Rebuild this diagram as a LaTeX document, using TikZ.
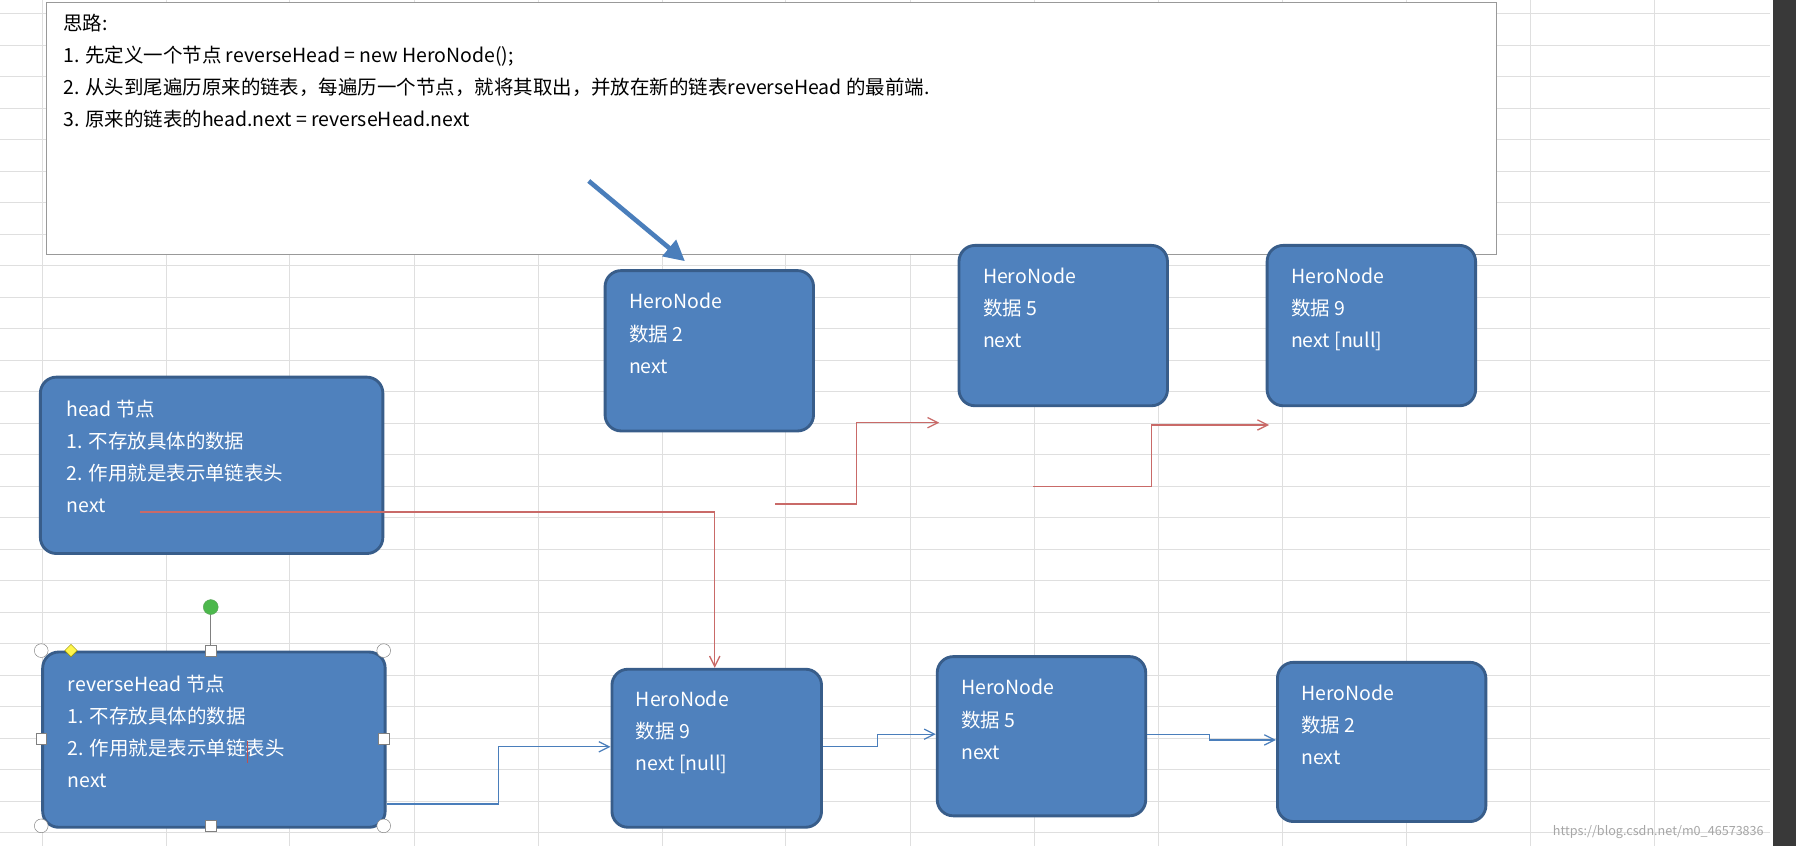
\documentclass[tikz,border=0pt]{standalone}
\usepackage{fontspec}
\setmainfont{Noto Sans CJK SC}
\usetikzlibrary{arrows.meta,shapes.geometric}
\definecolor{bfill}{HTML}{4F81BD}
\definecolor{bdraw}{HTML}{385D8A}
\definecolor{rline}{HTML}{C0504D}
\definecolor{bline}{HTML}{4A7EBB}
\tikzset{
  box/.style={draw=bdraw,line width=2.5pt,fill=bfill,rounded corners=14pt,anchor=north west,inner sep=0pt},
  txt/.style={anchor=north west,text=white,font=\fontsize{17}{28}\selectfont,align=left,inner sep=0pt},
  rarr/.style={draw=rline!85,line width=1.1pt,-{Straight Barb[length=9pt,width=9pt]}},
  barr/.style={draw=bline,line width=1.1pt,-{Straight Barb[length=9pt,width=9pt]}},
}
\begin{document}
\begin{tikzpicture}[x=1pt,y=-1pt]
\useasboundingbox (0,0) rectangle (1568,739);
\fill[white] (0,0) rectangle (1568,739);
\foreach \x in {37,145,253,362,470,578,686,795,903,1011,1120,1228,1336,1444}
  \draw[gray!25,line width=0.8pt] (\x,0) -- (\x,739);
\foreach \y in {12,40,67,95,122,150,177,205,232,260,287,315,342,370,397,425,452,480,507,535,562,590,617,645,672,700,727}
  \draw[gray!25,line width=0.8pt] (0,\y) -- (1545,\y);
\fill[gray!45!black] (1548,0) rectangle (1568,739);
% top text box
\node[draw=gray!80,fill=white,line width=0.8pt,anchor=north west,minimum width=1266pt,minimum height=220pt,inner sep=0pt] (tb) at (40,2) {};
\node[anchor=north west,font=\fontsize{17}{28}\selectfont,align=left,inner sep=0pt] (tt) at (55,12) {思路:\\1. 先定义一个节点 reverseHead = new HeroNode();\\2. 从头到尾遍历原来的链表，每遍历一个节点，就将其取出，并放在新的链表reverseHead 的最前端.\\3. 原来的链表的head.next = reverseHead.next};
% boxes
\node[box,minimum width=182pt,minimum height=140pt] (n2) at (527,235) {};
\node[txt] at (549,256) {HeroNode\\数据 2\\next};
\node[box,minimum width=182pt,minimum height=140pt] (n5) at (836,213) {};
\node[txt] at (858,234) {HeroNode\\数据 5\\next};
\node[box,minimum width=182pt,minimum height=140pt] (n9) at (1105,213) {};
\node[txt] at (1127,234) {HeroNode\\数据 9\\next [null]};
\node[box,minimum width=299pt,minimum height=154pt] (head) at (34,328) {};
\node[txt] at (58,349) {head 节点\\1. 不存放具体的数据\\2. 作用就是表示单链表头\\next};
\node[box,minimum width=299pt,minimum height=153pt] (rh) at (36,568) {};
\node[txt] at (59,589) {reverseHead 节点\\1. 不存放具体的数据\\2. 作用就是表示单链表头\\next};
\node[box,minimum width=183pt,minimum height=138pt] (b9) at (533,583) {};
\node[txt] at (555,603) {HeroNode\\数据 9\\next [null]};
\node[box,minimum width=182pt,minimum height=139pt] (b5) at (817,572) {};
\node[txt] at (839,593) {HeroNode\\数据 5\\next};
\node[box,minimum width=182pt,minimum height=139pt] (b2) at (1114,577) {};
\node[txt] at (1136,598) {HeroNode\\数据 2\\next};
% selection handles
\draw[gray,line width=0.8pt] (184,568) -- (184,530);
\node[draw=gray!70!green,fill=green!60!black!70,circle,inner sep=0pt,minimum size=13pt] (rot) at (184,530) {};
\foreach \p/\q in {36/568,335/568,36/721,335/721}
  \node[draw=gray,fill=white,inner sep=0pt,minimum size=12pt,circle] at (\p,\q) {};
\foreach \p/\q in {184/568,36/645,335/645,184/721}
  \node[draw=gray,fill=white,inner sep=0pt,minimum size=9pt] at (\p,\q) {};
\node[draw=olive,fill=yellow!70,diamond,inner sep=0pt,minimum width=11pt,minimum height=11pt] at (62,568) {};
\draw[rline,line width=1.2pt] (216,647) -- (216,666);
% connectors
\coordinate (a0) at (514,158);
\coordinate (a1) at (598,228);
\draw[draw=bline,line width=4pt,-{Triangle[length=18pt,width=18pt]}] (a0) -- (a1);
\coordinate (hn) at (122,447);
\draw[rarr] (hn) -- (624,447) -- (b9.north west -| 624,583);
\coordinate (r1) at (677,440);
\coordinate (r1e) at (820,369);
\draw[rarr] (r1) -- (748,440) -- (748,369) -- (r1e);
\coordinate (r2) at (902,425);
\coordinate (r2e) at (1108,371);
\draw[rarr] (r2) -- (1005,425) -- (1005,371) -- (r2e);
\draw[barr] (rh.east |- 0,702) -- (435,702) -- (435,652) -- (b9.west |- 0,652);
\draw[barr] (b9.east |- 0,652) -- (766,652) -- (766,641) -- (b5.west |- 0,641);
\draw[barr] (b5.east |- 0,641) -- (1056,641) -- (1056,646) -- (b2.west |- 0,646);
\node[anchor=south east,text=gray!70,font=\fontsize{11}{12}\selectfont,inner sep=0pt] (wm) at (1540,732) {https://blog.csdn.net/m0\_46573836};
\end{tikzpicture}
\end{document}
